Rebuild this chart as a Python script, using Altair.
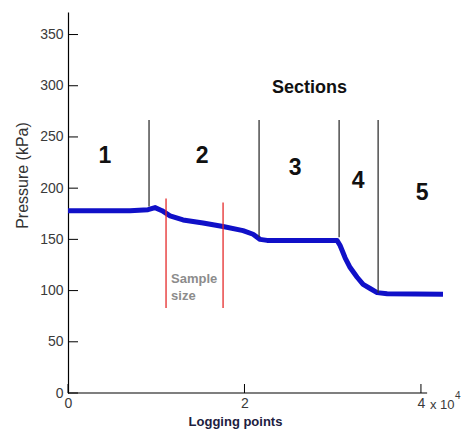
import altair as alt
import pandas as pd

# Pressure trace
line_x = [0, 7029, 9070, 9864, 10658, 11565, 13039, 15306, 17574, 19841, 20975, 21769,
          22562, 28571, 30499, 30839, 31406, 31973, 32766, 33447, 34240, 35034, 36168, 42500]
line_y = [178, 178, 179, 181, 178, 173, 169, 166, 162.5, 158.5, 155, 150,
          149, 149, 149, 144, 132, 122.5, 113, 106, 102, 98, 97, 96.5]

# Section boundaries (black lines)
section_x = [9184, 21655, 30726, 35147]
section_bottom = [182, 152, 152, 98]
section_top = [266.5, 266.5, 266.5, 266.5]

# Sample size window (red lines)
sample_x = [11111, 17574]
sample_top = [190, 186]
sample_bottom = [83, 83]

# Section numbers
num_labels = ["1", "2", "3", "4", "5"]
num_x = [4195, 15193, 25737, 32880, 40136]
num_y = [231.5, 231.5, 220, 207, 195.5]

# Other annotation texts
sections_label = "Sections"
sections_pos = (27381, 297.7)
sample_labels = ["Sample", "size"]
sample_label_x = [11678, 11678]
sample_label_y = [111, 94.4]

x_ticks = [0, 20000, 40000]
y_ticks = [0, 50, 100, 150, 200, 250, 300, 350]

W, H = 375, 381
FONT = "Liberation Sans"
xs = alt.Scale(domain=[0, 42500], nice=False, zero=False)
ys = alt.Scale(domain=[0, 372], nice=False, zero=False)

x_axis = alt.Axis(
    values=x_ticks, labelExpr="datum.value / 10000", ticks=False, tickSize=0,
    domain=False, grid=False, labelFont=FONT, labelFontSize=14, labelColor="#3a3a3a",
    labelPadding=3, labelFlush=False,
    title="Logging points", titleFont=FONT, titleFontSize=13, titleFontWeight="bold",
    titleColor="#1c2040", titleX=167, titleY=28, titleAlign="center", titleBaseline="middle")
y_axis = alt.Axis(
    values=y_ticks, ticks=False, tickSize=0, domain=True, domainColor="#000000",
    domainWidth=1.2, grid=False, labelFont=FONT, labelFontSize=14, labelColor="#3a3a3a",
    labelPadding=5, labelFlush=False,
    title="Pressure (kPa)", titleFont=FONT, titleFontSize=16, titleFontWeight="normal",
    titleColor="#333333", titleX=-46, titleY=163, titleAngle=-90, titleAlign="center",
    titleBaseline="middle")


def X(f):
    return alt.X(f, scale=xs, axis=x_axis)


def Y(f):
    return alt.Y(f, scale=ys, axis=y_axis)


df_line = pd.DataFrame({"x": line_x, "y": line_y})
df_sec = pd.DataFrame({"x": section_x, "y": section_bottom, "y2": section_top})
df_samp = pd.DataFrame({"x": sample_x, "y": sample_top, "y2": sample_bottom})
df_num = pd.DataFrame({"x": num_x, "y": num_y, "t": num_labels})
df_secl = pd.DataFrame({"x": [sections_pos[0]], "y": [sections_pos[1]], "t": [sections_label]})
df_sl = pd.DataFrame({"x": sample_label_x, "y": sample_label_y, "t": sample_labels})
df_xt = pd.DataFrame({"x": x_ticks})
df_yt = pd.DataFrame({"y": y_ticks})
df_xaxis = pd.DataFrame({"x": [0], "x2": [40700]})

line = alt.Chart(df_line).mark_line(color="#1010c8", strokeWidth=5, strokeJoin="round").encode(
    x=X("x:Q"), y=Y("y:Q"))

sec = alt.Chart(df_sec).mark_rule(color="#333333", strokeWidth=1.3).encode(
    x=X("x:Q"), y=Y("y:Q"), y2="y2:Q")

samp = alt.Chart(df_samp).mark_rule(color="#e52a2a", strokeWidth=1.3).encode(
    x=X("x:Q"), y=Y("y:Q"), y2="y2:Q")

nums = alt.Chart(df_num).mark_text(font=FONT, fontSize=23, fontWeight="bold", color="#111111",
                                   align="center", baseline="middle").encode(
    x=X("x:Q"), y=Y("y:Q"), text="t:N")

secl = alt.Chart(df_secl).mark_text(font=FONT, fontSize=18, fontWeight="bold", color="#111111",
                                    align="center", baseline="middle").encode(
    x=X("x:Q"), y=Y("y:Q"), text="t:N")

sl = alt.Chart(df_sl).mark_text(font=FONT, fontSize=13, fontWeight="bold", color="#8c8c8c",
                                align="left", baseline="middle").encode(
    x=X("x:Q"), y=Y("y:Q"), text="t:N")

xt = alt.Chart(df_xt).mark_rule(color="#000000", strokeWidth=1).encode(
    x=X("x:Q"), y=alt.value(H), y2=alt.value(H - 9))

yt = alt.Chart(df_yt).mark_rule(color="#000000", strokeWidth=1).encode(
    y=Y("y:Q"), x=alt.value(0), x2=alt.value(10))

xaxis = alt.Chart(df_xaxis).mark_rule(color="#000000", strokeWidth=1.2).encode(
    x=X("x:Q"), x2="x2:Q", y=alt.value(H))

exp_base = alt.Chart(pd.DataFrame({"t": ["x 10"]})).mark_text(
    font=FONT, fontSize=13, color="#3a3a3a", align="left", baseline="middle").encode(
    x=alt.value(362), y=alt.value(H + 12), text="t:N")
exp_sup = alt.Chart(pd.DataFrame({"t": ["4"]})).mark_text(
    font=FONT, fontSize=10, color="#3a3a3a", align="left", baseline="middle").encode(
    x=alt.value(387), y=alt.value(H + 3), text="t:N")

chart = alt.layer(line, sec, samp, nums, secl, sl, xt, yt, xaxis, exp_base, exp_sup).properties(
    width=W, height=H,
    autosize=alt.AutoSizeParams(type="none"),
    padding={"left": 60, "top": 4, "right": 19, "bottom": 41},
).configure_view(stroke=None)

chart.save("out.html", embed_options={"renderer": "svg", "actions": False})
